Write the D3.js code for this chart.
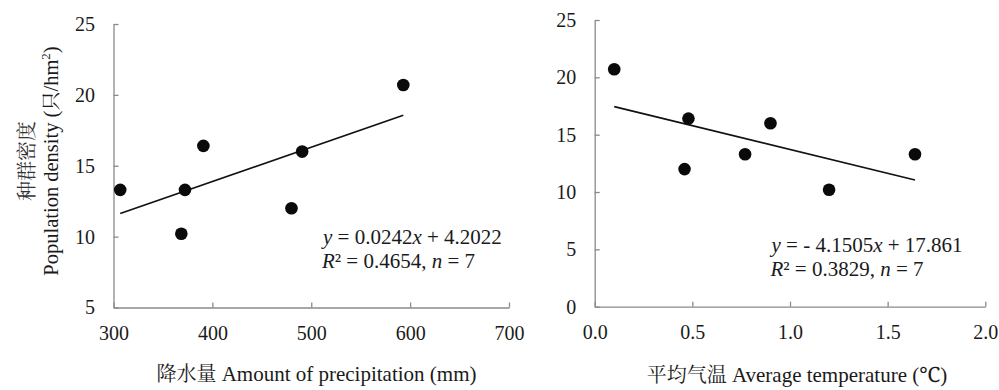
<html>
<meta charset="utf-8">
<script src="https://d3js.org/d3.v7.min.js"></script>
<style>
  body { margin: 0; background: #fff; }
</style>
<div id="chart"></div>
<script>
// values
let precip = [306.8, 368.6, 372.3, 390.9, 480.0, 490.8, 593.1]
let densityP = [13.3, 10.2, 13.3, 16.4, 12.0, 16.0, 20.7]
let temp = [0.10, 0.46, 0.48, 0.77, 0.90, 1.20, 1.64]
let densityT = [20.7, 12.0, 16.4, 13.3, 16.0, 10.2, 13.3]

let xTicksP = [300, 400, 500, 600, 700]
let yTicksP = [5, 10, 15, 20, 25]
let xTicksT = [0, 0.5, 1.0, 1.5, 2.0]
let yTicksT = [0, 5, 10, 15, 20, 25]

let fitP = {slope: 0.0242, intercept: 4.2022}
let fitT = {slope: -4.1505, intercept: 17.861}

let width = 999, height = 390
let SERIF = "'Liberation Serif', Tinos, 'Noto Serif', 'Noto Serif CJK SC', serif"
let CJK = "'Noto Serif CJK SC', 'Noto Sans CJK SC', serif"

let svg = d3.select("#chart").append("svg")
    .attr("width", width)
    .attr("height", height)

function panel(o) {
  let x = d3.scaleLinear().domain(o.xDomain).range([o.left, o.right])
  let y = d3.scaleLinear().domain(o.yDomain).range([o.bottom, o.top])
  let g = svg.append("g")

  let ax = g.append("g")
      .attr("transform", "translate(0," + o.bottom + ")")
      .call(d3.axisBottom(x).tickValues(o.xTicks).tickFormat(o.xFmt)
        .tickSizeInner(-5).tickSizeOuter(0).tickPadding(18.5))
  let ay = g.append("g")
      .attr("transform", "translate(" + o.left + ",0)")
      .call(d3.axisLeft(y).tickValues(o.yTicks).tickFormat(d3.format("d"))
        .tickSizeInner(-5).tickSizeOuter(0).tickPadding(18.5))
  for (let a of [ax, ay]) {
    a.attr("font-family", null)
    a.selectAll("path, line").attr("stroke", "#8a8a8a").attr("stroke-width", 1.3)
    a.selectAll("text").attr("font-size", 20).attr("fill", "#1a1a1a")
      .style("font-family", SERIF)
  }

  // trend line across the data range
  let x0 = d3.min(o.xs), x1 = d3.max(o.xs)
  g.append("line")
      .attr("x1", x(x0)).attr("y1", y(o.fit.slope * x0 + o.fit.intercept))
      .attr("x2", x(x1)).attr("y2", y(o.fit.slope * x1 + o.fit.intercept))
      .attr("stroke", "#111").attr("stroke-width", 1.6)

  g.selectAll("circle.pt")
    .data(o.xs.map((d, i) => [d, o.ys[i]]))
    .enter().append("circle")
      .attr("cx", d => x(d[0]))
      .attr("cy", d => y(d[1]))
      .attr("r", 6.3)
      .attr("fill", "#0a0a0a")

  // equation
  let eq = g.append("text").attr("font-size", 21).attr("fill", "#1a1a1a")
      .style("font-family", SERIF)
      .attr("x", o.eqX).attr("y", o.eqY)
  eq.append("tspan").attr("font-style", "italic").text("y")
  eq.append("tspan").text(" = " + o.eqA)
  eq.append("tspan").attr("font-style", "italic").text("x")
  eq.append("tspan").text(" + " + o.eqB)
  let r2 = g.append("text").attr("font-size", 21).attr("fill", "#1a1a1a")
      .style("font-family", SERIF)
      .attr("x", o.eqX - 1).attr("y", o.eqY + 24)
  r2.append("tspan").attr("font-style", "italic").text("R")
  r2.append("tspan").text("² = " + o.r2 + ", ")
  r2.append("tspan").attr("font-style", "italic").text("n")
  r2.append("tspan").text(" = 7")

  let t = g.append("text")
      .attr("x", o.titleX).attr("y", o.titleY)
      .attr("text-anchor", "middle")
      .attr("font-size", 21).attr("fill", "#1a1a1a")
      .style("font-family", SERIF)
  t.append("tspan").style("font-family", CJK).attr("font-size", 20).text(o.xTitleCn + " ")
  t.append("tspan").text(o.xTitle)
}

panel({
  xDomain: [300, 700], yDomain: [5, 25],
  left: 113.5, right: 509, top: 24, bottom: 307.5,
  xTicks: xTicksP, yTicks: yTicksP, xFmt: d3.format("d"),
  xs: precip, ys: densityP, fit: fitP,
  eqX: 323, eqY: 244, eqA: "0.0242", eqB: "4.2022", r2: "0.4654",
  titleX: 316.5, titleY: 381, xTitleCn: "降水量", xTitle: "Amount of precipitation (mm)"
})

panel({
  xDomain: [0, 2], yDomain: [0, 25],
  left: 594.7, right: 985.3, top: 20, bottom: 306.7,
  xTicks: xTicksT, yTicks: yTicksT, xFmt: d3.format(".1f"),
  xs: temp, ys: densityT, fit: fitT,
  eqX: 771.5, eqY: 252, eqA: "- 4.1505", eqB: "17.861", r2: "0.3829",
  titleX: 797, titleY: 382, xTitleCn: "平均气温", xTitle: "Average temperature (℃)"
})

// y axis title, two lines
let yt = svg.append("g").attr("transform", "translate(0,161) rotate(-90)")
yt.append("text")
    .style("font-family", CJK)
    .attr("x", 0).attr("y", 34)
    .attr("text-anchor", "middle")
    .attr("font-size", 20)
    .attr("fill", "#333")
    .text("种群密度")
let yt2 = yt.append("text")
    .style("font-family", SERIF)
    .attr("x", 0).attr("y", 58)
    .attr("text-anchor", "middle")
    .attr("font-size", 20.5).attr("fill", "#1a1a1a")
yt2.append("tspan").text("Population density (")
yt2.append("tspan").style("font-family", CJK).attr("font-size", 19).text("只")
yt2.append("tspan").text("/hm")
yt2.append("tspan").attr("font-size", 13).attr("dy", -8).text("2")
yt2.append("tspan").attr("dy", 8).text(")")
</script>
</html>
